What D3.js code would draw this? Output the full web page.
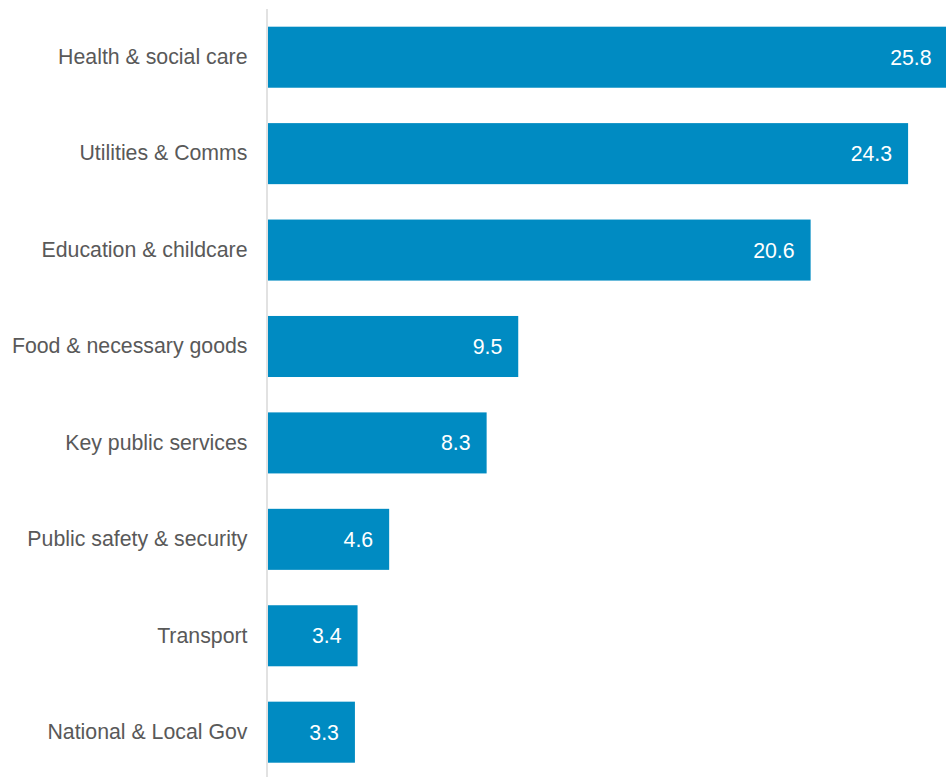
<!DOCTYPE html>
<html>
<head>
<meta charset="utf-8">
<script src="https://cdn.jsdelivr.net/npm/d3@7"></script>
<style>
  html, body { margin: 0; padding: 0; background: #fff; }
  svg { display: block; }
  text { font-family: "Liberation Sans", Arial, sans-serif; }
</style>
</head>
<body>
<svg id="chart" width="946" height="777"></svg>
<script>
// Sectors and their values
const categories = [
  "Health & social care",
  "Utilities & Comms",
  "Education & childcare",
  "Food & necessary goods",
  "Key public services",
  "Public safety & security",
  "Transport",
  "National & Local Gov"
];
const values = [25.8, 24.3, 20.6, 9.5, 8.3, 4.6, 3.4, 3.3];

const width = 946, height = 777;
const svg = d3.select("#chart");

const x = d3.scaleLinear().domain([0, 25.8]).range([268, 947.6]);
const y = d3.scaleBand()
  .domain(categories)
  .range([9, 780.4])
  .paddingInner(0.367)
  .paddingOuter(0.1835);

const rows = categories.map((c, i) => ({ c, v: values[i] }));

// Bars
svg.append("g").selectAll("rect")
  .data(rows)
  .join("rect")
  .attr("x", x(0))
  .attr("y", d => y(d.c))
  .attr("width", d => x(d.v) - x(0))
  .attr("height", y.bandwidth())
  .attr("fill", "#008bc2");

// Value labels inside bar ends
svg.append("g").selectAll("text")
  .data(rows)
  .join("text")
  .attr("x", d => x(d.v) - 16)
  .attr("y", d => y(d.c) + y.bandwidth() / 2)
  .attr("dy", "0.35em")
  .attr("text-anchor", "end")
  .attr("fill", "#ffffff")
  .attr("font-size", 21.3)
  .text(d => d.v.toFixed(1));

// Category axis
const axis = svg.append("g")
  .attr("transform", `translate(${x(0) - 1},0)`)
  .call(d3.axisLeft(y).tickSize(0).tickPadding(19.5));
axis.select(".domain")
  .attr("d", `M0,${y.range()[0]}V${height}`)
  .attr("stroke", "#d9d9d9")
  .attr("stroke-width", 1.5);
axis.selectAll(".tick text")
  .attr("fill", "#595959")
  .attr("font-size", 21.3)
  .attr("font-family", "'Liberation Sans', Arial, sans-serif");
</script>
</body>
</html>
